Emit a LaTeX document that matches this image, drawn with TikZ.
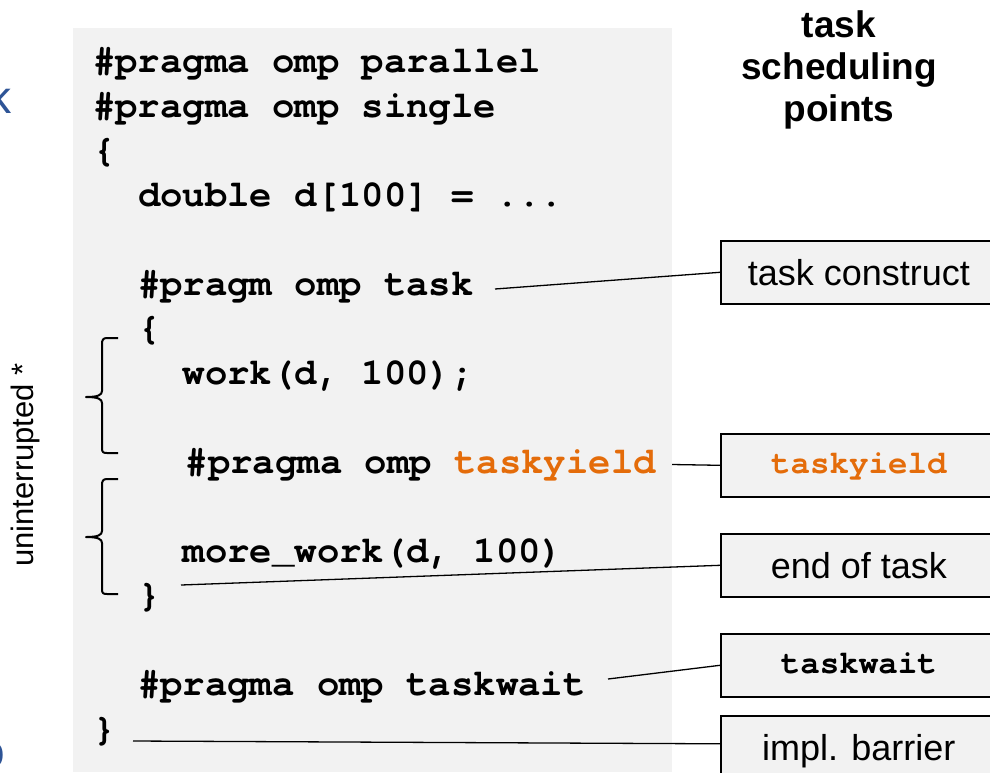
\documentclass[tikz,border=0pt]{standalone}
\usepackage{fontspec}
\setmainfont{Liberation Sans}
\newfontfamily\monofam{TeX Gyre Cursor}
\definecolor{panelgray}{RGB}{242,242,242}
\definecolor{yieldorange}{RGB}{228,108,10}
\definecolor{titleblue}{RGB}{46,84,150}

\begin{document}
\begin{tikzpicture}[x=1pt,y=-1pt,
  codeline/.style={anchor=base west, inner sep=0pt,
    font=\monofam\bfseries\fontsize{37.3}{40}\selectfont},
  lbl/.style={draw=black, line width=1.6pt, fill=panelgray,
    minimum width=276pt, minimum height=63pt, inner sep=0pt,
    anchor=north west, font=\fontsize{36}{40}\selectfont,
    text height=26pt, text depth=0pt},
  lblcode/.style={lbl, font=\monofam\bfseries\fontsize{32.5}{36}\selectfont,
    text height=17pt},
  leader/.style={draw=black, line width=1.3pt},
  bracestroke/.style={draw=black, line width=2pt, line join=round},
  frag/.style={inner sep=0pt, anchor=base east, text=titleblue,
    font=\fontsize{46}{50}\selectfont}]

\useasboundingbox (0,0) rectangle (990,772);

% code panel
\fill[panelgray] (73,28) rectangle (672,772);

% title letters running off the left edge
\node[frag] (fragK) at (12,113) {k};
\node[frag] (fragO) at (5.5,767) {o};

% source listing
\node[codeline] (l0)  at (93,72.5)    {\#pragma omp parallel};
\node[codeline] (l1)  at (93,117)     {\#pragma omp single};
\node[codeline] (l2)  at (93,161.5)   {\{};
\node[codeline] (l3)  at (137.8,206)  {double d[100] = ...};
\node[codeline] (l5)  at (137.8,295)  {\#pragm omp task};
\node[codeline] (l6)  at (137.8,339.5){\{};
\node[codeline] (l7)  at (182.6,384)  {work(d, 100);};
\node[codeline] (l9)  at (185.6,473)  {\#pragma omp \textcolor{yieldorange}{taskyield}};
\node[codeline] (l11) at (182.6,562)  {more\_work(d, 100)};
\node[codeline] (l12) at (137.8,606.5){\}};
\node[codeline] (l14) at (137.8,695.5){\#pragma omp taskwait};
\node[codeline] (l15) at (93,740)     {\}};

% braces marking the uninterrupted parts of the task
\draw[bracestroke] (118,338) -- (107,338) .. controls (103,338) and (102,340) .. (102,344)
  -- (102,391) .. controls (102,395) and (98,397) .. (86,397)
  .. controls (98,397) and (102,399) .. (102,403)
  -- (102,448) .. controls (102,452) and (103,453) .. (107,453) -- (118,453);
\draw[bracestroke] (118,479) -- (107,479) .. controls (103,479) and (102,481) .. (102,485)
  -- (102,531) .. controls (102,535) and (98,537) .. (86,537)
  .. controls (98,537) and (102,539) .. (102,543)
  -- (102,589) .. controls (102,593) and (103,594) .. (107,594) -- (118,594);

\node[rotate=90, anchor=base, inner sep=0pt, font=\fontsize{31}{36}\selectfont]
  (unint) at (33,465) {uninterrupted *};

% heading of the callout column
\node[font=\bfseries\fontsize{37}{42}\selectfont, align=center, anchor=north, inner sep=0pt]
  (sched) at (839,10) {task\\scheduling\\points};

% callout boxes
\node[lbl]     (bTask)    at (720,240) {task construct};
\node[lblcode, text=yieldorange] (bYield) at (720,433) {taskyield};
\node[lbl]     (bEnd)     at (720,533) {end of task};
\node[lblcode] (bWait)    at (720,633) {taskwait};
\node[lbl]     (bBarrier) at (720,715) {impl. barrier};

% leader lines
\coordinate (cTask)  at (495,289);
\coordinate (cYield) at (672,464.5);
\coordinate (cEnd)   at (181,585);
\coordinate (cWait)  at (608,679);
\coordinate (cBar)   at (133,741);
\draw[leader] (cTask)  -- (bTask.west);
\draw[leader] (cYield) -- (bYield.west);
\draw[leader] (cEnd)   -- (bEnd.west);
\draw[leader] (cWait)  -- (bWait.west);
\draw[leader] (cBar)   -- ([yshift=3.5pt]bBarrier.west);
\end{tikzpicture}
\end{document}
